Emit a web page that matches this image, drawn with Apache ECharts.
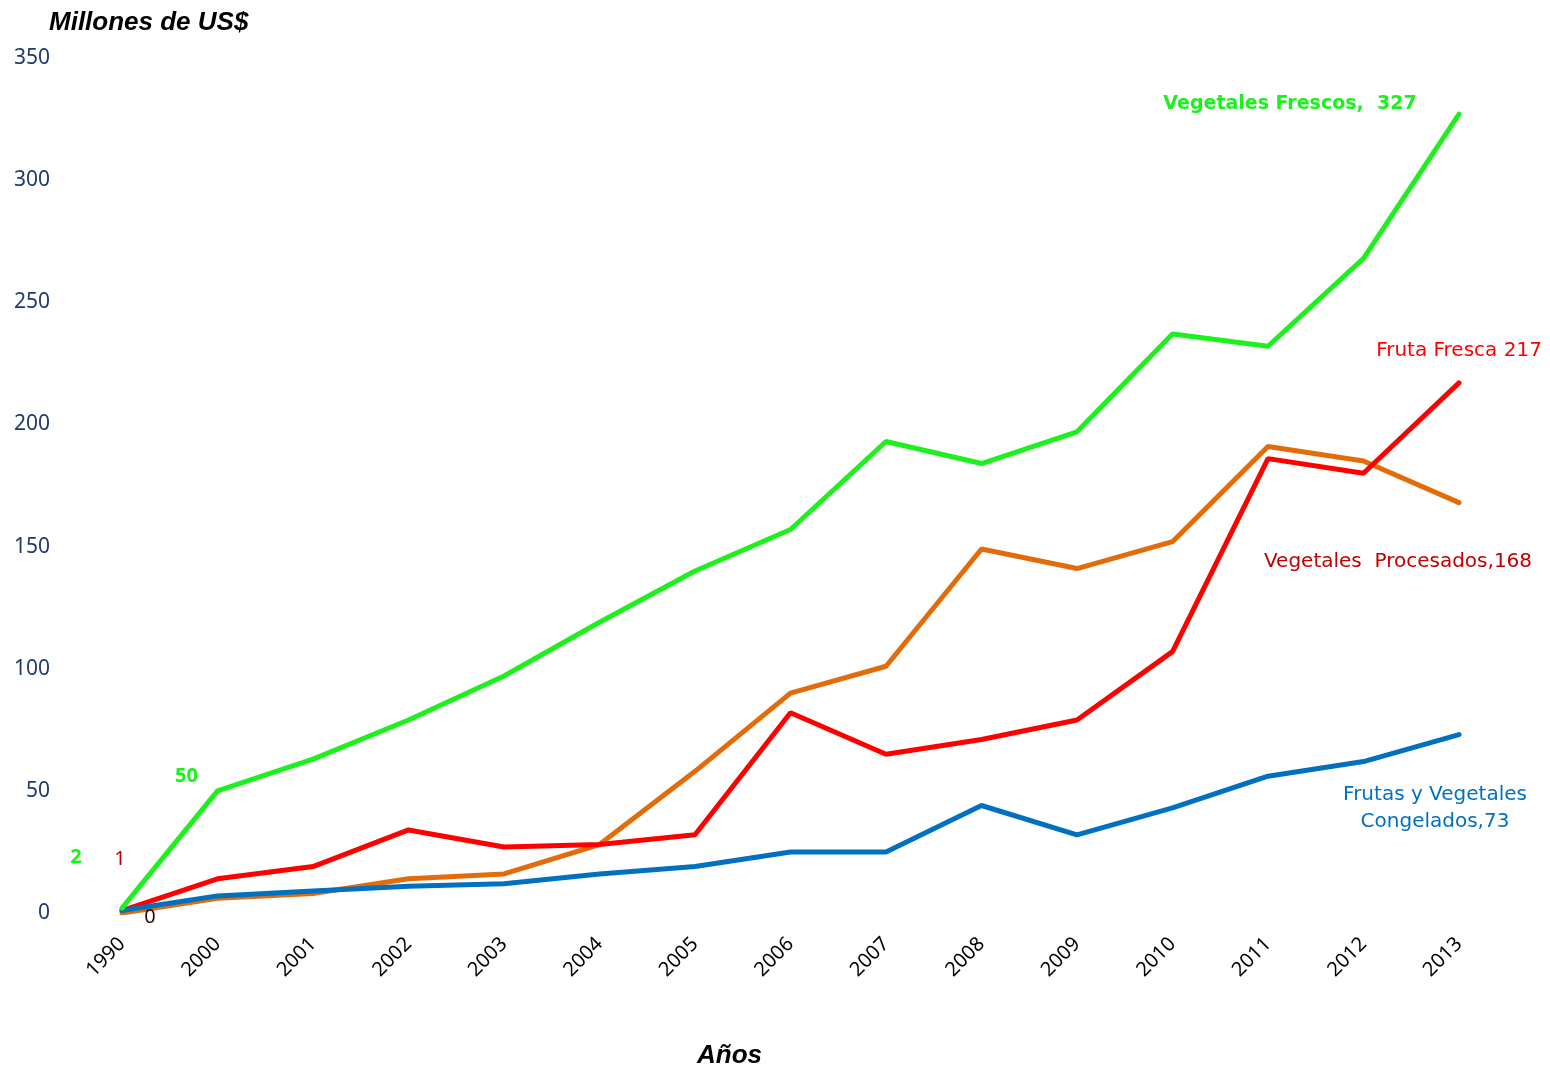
<!DOCTYPE html>
<html>
<head>
<meta charset="utf-8">
<script src="https://cdn.jsdelivr.net/npm/echarts@6/dist/echarts.min.js"></script>
<style>html,body{margin:0;padding:0;background:#fff}#c{width:1550px;height:1067px}</style>
</head>
<body>
<div id="c"></div>
<script>
const years = ['1990','2000','2001','2002','2003','2004','2005','2006','2007','2008','2009','2010','2011','2012','2013'];
const vegetalesFrescos   = [2, 50, 63, 79, 97, 119, 140, 157, 193, 184, 197, 237, 232, 268, 327];
const frutaFresca        = [1, 14, 19, 34, 27, 28, 32, 82, 65, 71, 79, 107, 186, 180, 217];
const vegetalesProcesados= [0, 6, 8, 14, 16, 28, 58, 90, 101, 149, 141, 152, 191, 185, 168];
const congelados         = [1, 7, 9, 11, 12, 16, 19, 25, 25, 44, 32, 43, 56, 62, 73];
const yTicks = [0, 50, 100, 150, 200, 250, 300, 350];

const lblFrescos    = {0: '2', 1: '50', 14: 'Vegetales Frescos,  327'};
const lblFruta      = {0: '1', 14: 'Fruta Fresca 217'};
const lblProcesados = {0: '0', 14: 'Vegetales  Procesados,168'};
const lblCongelados = {14: 'Frutas y Vegetales\nCongelados,73'};

const FONT = '"Noto Sans", "Open Sans", sans-serif';
const WIDE = '"DejaVu Sans", "Noto Sans", sans-serif';

function build(values, labels, styles) {
  return values.map((v, i) => {
    if (labels[i] === undefined) return v;
    const st = styles[i] || {};
    return {
      value: v,
      label: Object.assign({
        show: true, position: 'inside', formatter: labels[i],
        fontFamily: FONT, fontSize: 19
      }, st)
    };
  });
}

const chart = echarts.init(document.getElementById('c'), null, {renderer: 'canvas'});
function lineSeries(name, color, z, data) {
  return {type: 'line', name: name, z: z, showSymbol: true, symbol: 'circle', symbolSize: 1,
    itemStyle: {color: color}, silent: true, animation: false,
    lineStyle: {color: color, width: 5, cap: 'round'}, data: data};
}

chart.setOption({
  backgroundColor: '#ffffff',
  animation: false,
  title: [
    {text: 'Millones de US$', left: 44, top: 5,
      textStyle: {fontFamily: '"Liberation Sans", Arial, sans-serif', fontStyle: 'italic', fontWeight: 'bold', fontSize: 26, color: '#000'}},
    {text: 'Años', left: 692, top: 1038,
      textStyle: {fontFamily: '"Liberation Sans", Arial, sans-serif', fontStyle: 'italic', fontWeight: 'bold', fontSize: 26, color: '#000'}}
  ],
  grid: {left: 122, right: 91, top: 58, bottom: 154, containLabel: false},
  xAxis: {
    type: 'category', data: years, boundaryGap: false,
    axisLine: {show: false}, axisTick: {show: false}, splitLine: {show: false},
    axisLabel: {rotate: 45, margin: 28, fontFamily: FONT, fontSize: 20, color: '#000', interval: 0}
  },
  yAxis: {
    type: 'value', min: yTicks[0], max: yTicks[yTicks.length - 1], interval: 50,
    axisLine: {show: false}, axisTick: {show: false}, splitLine: {show: false},
    axisLabel: {margin: 72, fontFamily: FONT, fontSize: 21, color: '#1F3A6E'}
  },
  series: [
    lineSeries('Vegetales Procesados', '#E36C0A', 2, build(vegetalesProcesados, lblProcesados, {
      0: {offset: [28, 4], color: '#2A0505', fontSize: 20},
      14: {offset: [-61, 59], color: '#C00000', fontSize: 20, fontFamily: WIDE}
    })),
    lineSeries('Fruta Fresca', '#FF0000', 3, build(frutaFresca, lblFruta, {
      0: {offset: [-2, -51], color: '#C00000', fontSize: 20},
      14: {offset: [0, -32], color: '#FF0000', fontSize: 20, fontFamily: WIDE}
    })),
    lineSeries('Frutas y Vegetales Congelados', '#0070C0', 4, build(congelados, lblCongelados, {
      14: {offset: [-24, 74], color: '#0070C0', fontSize: 20, lineHeight: 27, align: 'center', fontFamily: WIDE}
    })),
    lineSeries('Vegetales Frescos', '#1EF01E', 5, build(vegetalesFrescos, lblFrescos, {
      0: {offset: [-46, -51], color: '#1EF01E', fontWeight: 'bold', fontSize: 20},
      1: {offset: [-31, -15], color: '#1EF01E', fontWeight: 'bold', fontSize: 20},
      14: {offset: [-169, -10], color: '#1EF01E', fontWeight: 'bold', fontSize: 19, fontFamily: WIDE}
    }))
  ]
});
</script>
</body>
</html>
